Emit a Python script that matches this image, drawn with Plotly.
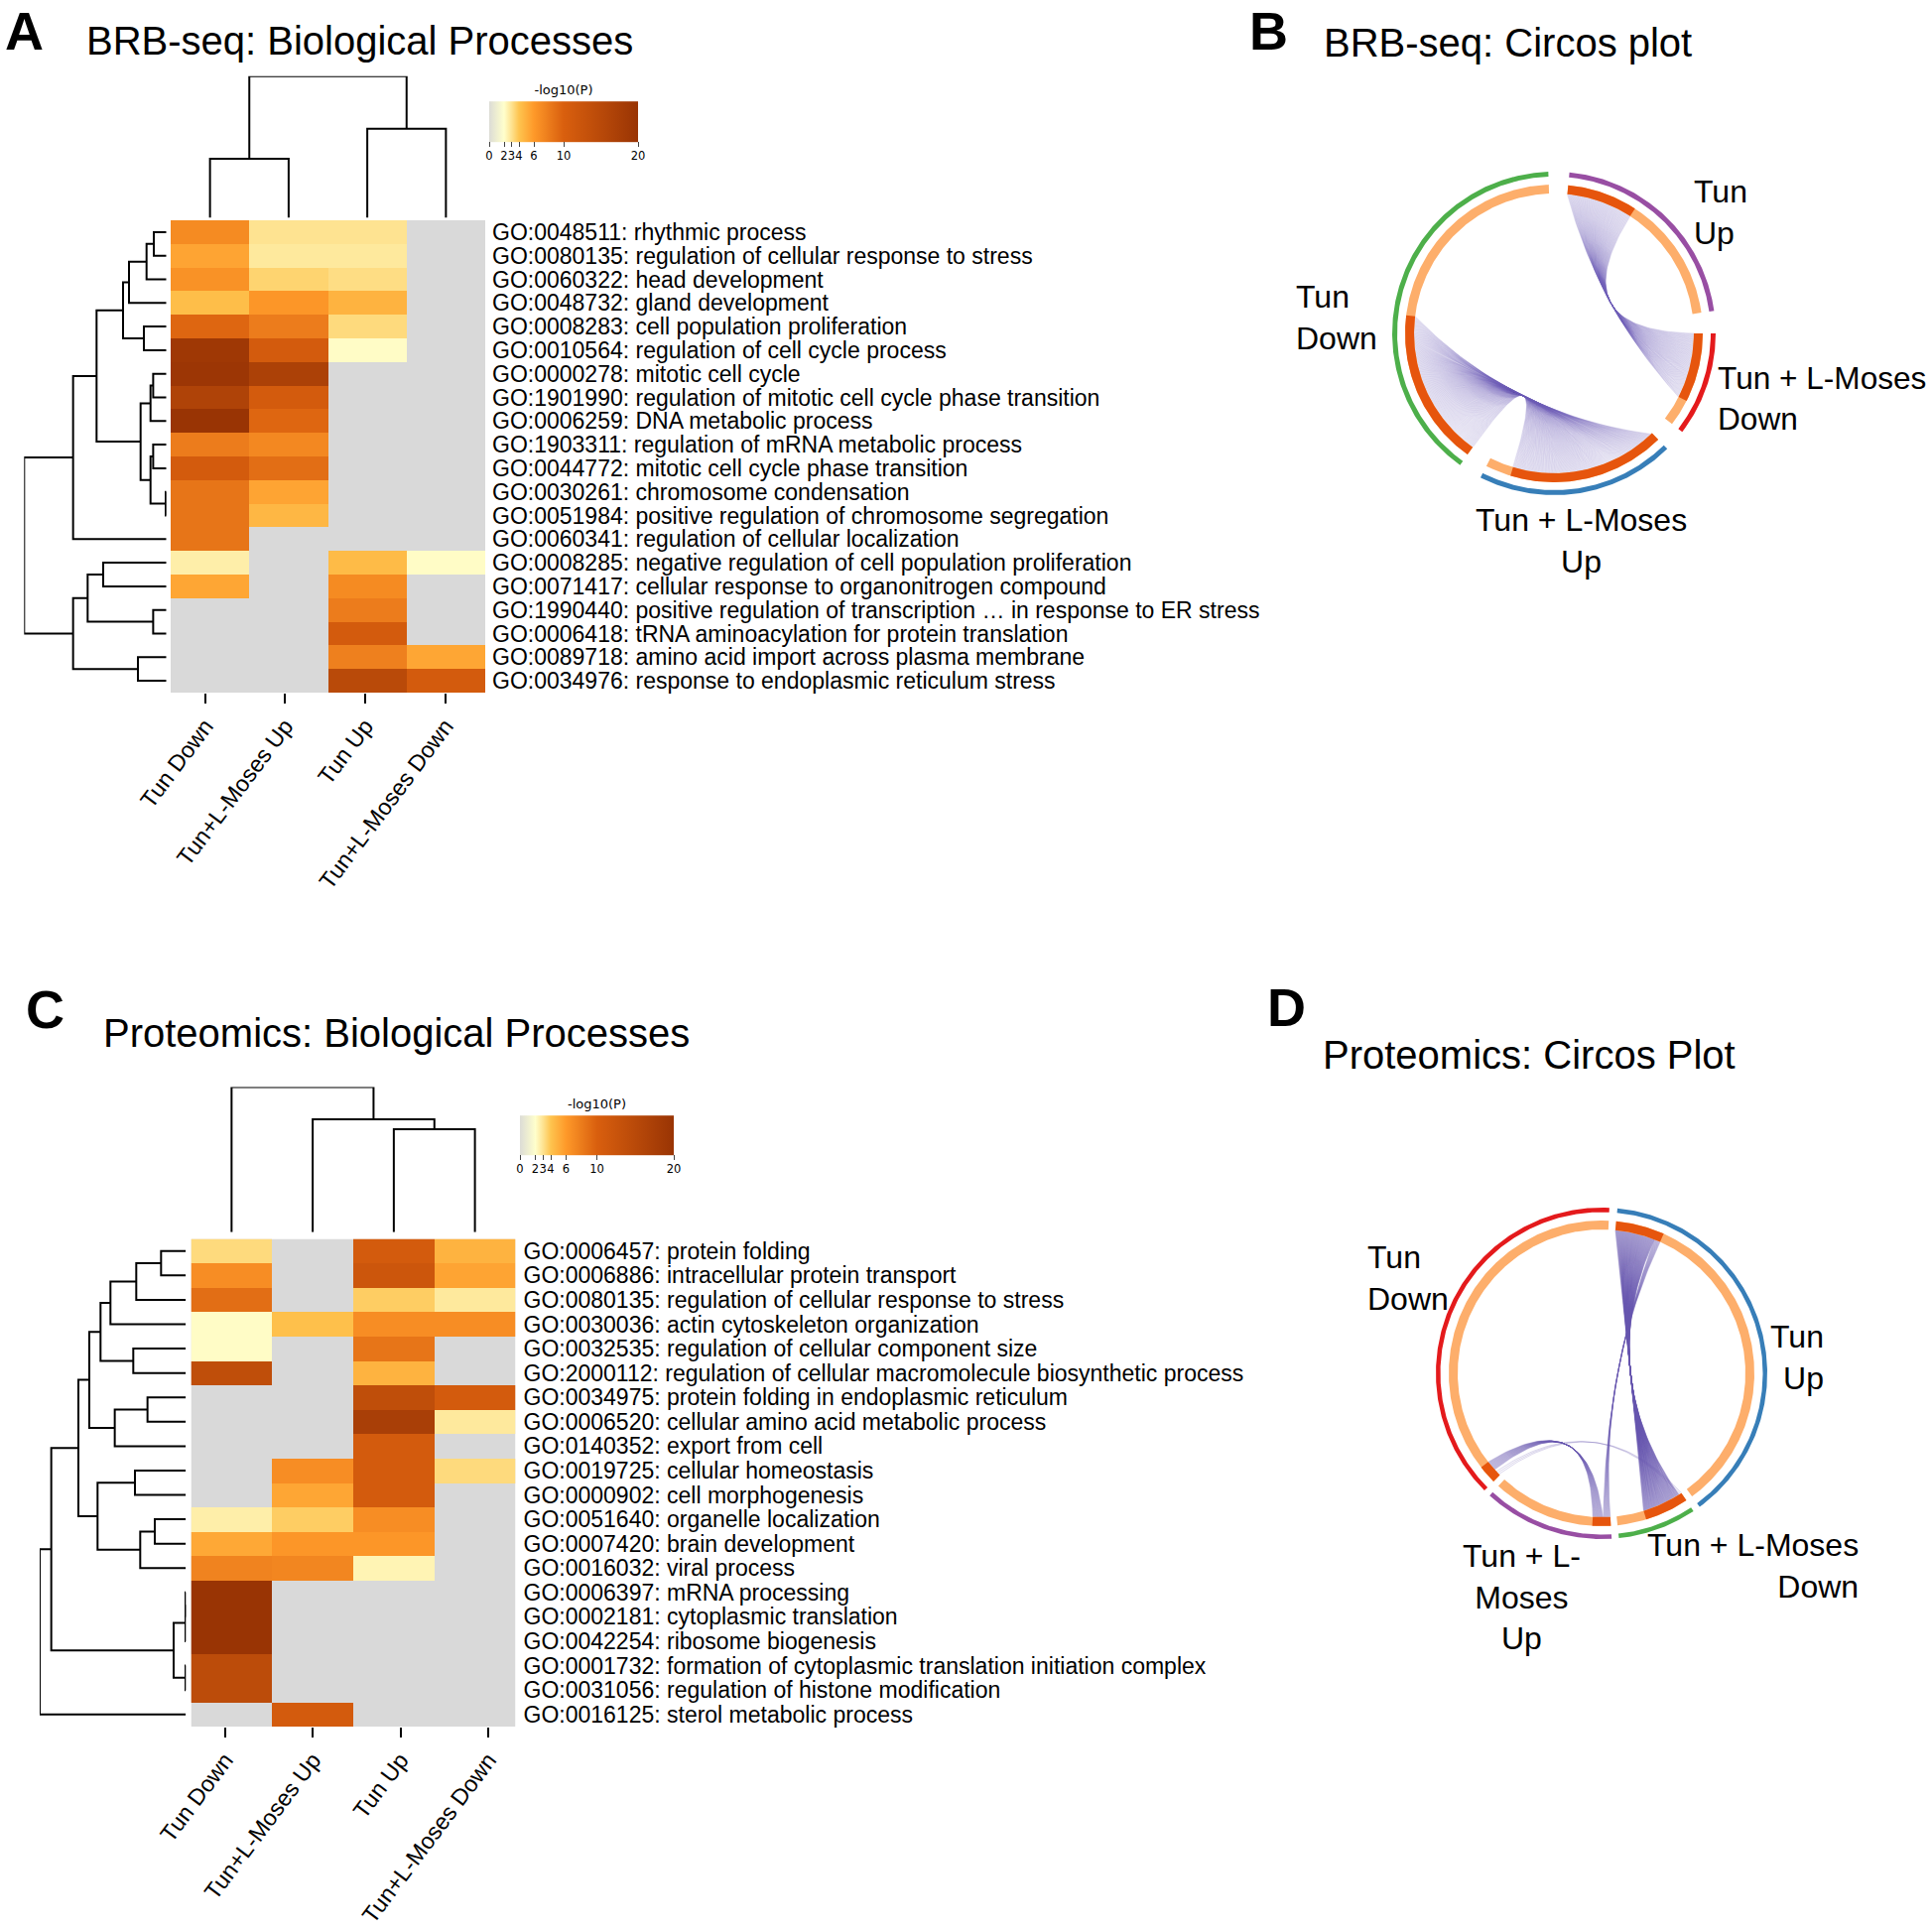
import numpy as np
import plotly.graph_objects as go

W, H = 1947, 1946
FONT = "Liberation Sans"
N = None

# ---------------- data: heatmaps ----------------
conditions = ["Tun Down", "Tun+L-Moses Up", "Tun Up", "Tun+L-Moses Down"]

brb_terms = [
    "GO:0048511: rhythmic process",
    "GO:0080135: regulation of cellular response to stress",
    "GO:0060322: head development",
    "GO:0048732: gland development",
    "GO:0008283: cell population proliferation",
    "GO:0010564: regulation of cell cycle process",
    "GO:0000278: mitotic cell cycle",
    "GO:1901990: regulation of mitotic cell cycle phase transition",
    "GO:0006259: DNA metabolic process",
    "GO:1903311: regulation of mRNA metabolic process",
    "GO:0044772: mitotic cell cycle phase transition",
    "GO:0030261: chromosome condensation",
    "GO:0051984: positive regulation of chromosome segregation",
    "GO:0060341: regulation of cellular localization",
    "GO:0008285: negative regulation of cell population proliferation",
    "GO:0071417: cellular response to organonitrogen compound",
    "GO:1990440: positive regulation of transcription \u2026 in response to ER stress",
    "GO:0006418: tRNA aminoacylation for protein translation",
    "GO:0089718: amino acid import across plasma membrane",
    "GO:0034976: response to endoplasmic reticulum stress",
]
brb_tun_down = [7.0, 5.5, 6.5, 4.3, 9.5, 19.0, 19.5, 16.5, 20.0, 8.0, 11.0, 8.5, 8.5, 8.5, 2.6, 5.4, N, N, N, N]
brb_tlm_up   = [3.0, 2.8, 3.5, 6.2, 8.0, 11.0, 17.0, 11.0, 9.5, 7.2, 9.0, 5.5, 4.6, N, N, N, N, N, N, N]
brb_tun_up   = [3.0, 2.8, 3.2, 4.8, 3.3, 2.1, N, N, N, N, N, N, N, N, 4.4, 7.0, 8.0, 11.0, 7.7, 15.0]
brb_tlm_down = [N, N, N, N, N, N, N, N, N, N, N, N, N, N, 2.1, N, N, N, 5.4, 11.0]

prot_terms = [
    "GO:0006457: protein folding",
    "GO:0006886: intracellular protein transport",
    "GO:0080135: regulation of cellular response to stress",
    "GO:0030036: actin cytoskeleton organization",
    "GO:0032535: regulation of cellular component size",
    "GO:2000112: regulation of cellular macromolecule biosynthetic process",
    "GO:0034975: protein folding in endoplasmic reticulum",
    "GO:0006520: cellular amino acid metabolic process",
    "GO:0140352: export from cell",
    "GO:0019725: cellular homeostasis",
    "GO:0000902: cell morphogenesis",
    "GO:0051640: organelle localization",
    "GO:0007420: brain development",
    "GO:0016032: viral process",
    "GO:0006397: mRNA processing",
    "GO:0002181: cytoplasmic translation",
    "GO:0042254: ribosome biogenesis",
    "GO:0001732: formation of cytoplasmic translation initiation complex",
    "GO:0031056: regulation of histone modification",
    "GO:0016125: sterol metabolic process",
]
prot_tun_down = [3.3, 6.8, 9.0, 2.1, 2.1, 14.0, N, N, N, N, N, 2.6, 5.3, 7.5, 20.0, 20.0, 20.0, 14.5, 14.5, N]
prot_tlm_up   = [N, N, N, 4.2, N, N, N, N, N, 6.8, 5.4, 3.7, 6.2, 7.3, N, N, N, N, N, 11.0]
prot_tun_up   = [11.0, 12.0, 3.7, 6.8, 8.5, 4.8, 14.0, 17.5, 11.0, 11.0, 11.0, 6.8, 6.2, 2.4, N, N, N, N, N, N]
prot_tlm_down = [4.8, 5.5, 2.8, 6.8, N, N, 11.0, 2.8, N, 3.3, N, N, N, N, N, N, N, N, N, N]

cbar_ticks = [0, 2, 3, 4, 6, 10, 20]

# dendrogram linkages: (child_a, child_b, height); leaves are 0..n-1, new nodes n, n+1, ...
brb_col_links = [(0, 1, 59.5), (2, 3, 90.0), (4, 5, 143.0)]
brb_row_links = [(0, 1, 38), (20, 2, 60), (21, 3, 113), (4, 5, 68), (22, 23, 131),
                 (6, 7, 40), (25, 8, 48), (9, 10, 40), (11, 12, 2), (27, 28, 48),
                 (26, 29, 78), (24, 30, 211), (31, 13, 282), (14, 15, 191), (16, 17, 40),
                 (33, 34, 238), (18, 19, 86), (35, 36, 282), (32, 37, 430)]
prot_col_links = [(2, 3, 104.0), (1, 4, 114.0), (0, 5, 146.7)]
prot_row_links = [(0, 1, 75), (20, 2, 150), (21, 3, 228), (4, 5, 159), (22, 23, 258),
                  (6, 7, 116), (25, 8, 215), (24, 26, 292), (9, 10, 154), (11, 12, 94),
                  (29, 13, 138), (28, 30, 267), (27, 31, 325), (14, 15, 1), (33, 16, 1),
                  (17, 18, 1), (34, 35, 37), (32, 36, 407), (37, 19, 442)]

# ---------------- data: circos ----------------
# group arcs, degrees clockwise from 12 o'clock
brb_groups = ["Tun Down", "Tun Up", "Tun + L-Moses Down", "Tun + L-Moses Up"]
brb_group_start = [215.5, 5.5, 90.0, 135.5]
brb_group_end = [358.0, 82.0, 127.5, 207.0]
brb_group_color = ["#4daf4a", "#984ea3", "#e41a1c", "#377eb8"]
brb_shared_start = [215.5, 5.5, 90.0, 135.5]
brb_shared_end = [277.0, 33.0, 117.0, 197.0]
# links: source span -> target span (paired in order), number of genes drawn, waist radius
brb_link_src = [(5.5, 33.0), (215.5, 277.0)]
brb_link_dst = [(117.0, 90.0), (197.0, 136.0)]
brb_link_n = [95, 190]
brb_link_waist = [65, 70]

prot_groups = ["Tun Down", "Tun Up", "Tun + L-Moses Down", "Tun + L-Moses Up"]
prot_group_start = [225.0, 5.5, 146.3, 176.5]
prot_group_end = [362.7, 143.7, 174.0, 222.5]
prot_group_color = ["#e41a1c", "#377eb8", "#4daf4a", "#984ea3"]
prot_shared_start = [225.0, 5.5, 146.3, 176.5]
prot_shared_end = [232.0, 24.0, 163.0, 183.5]
prot_link_src = [(5.5, 21.5), (21.5, 24.0), (228.0, 232.0), (225.5, 227.0)]
prot_link_dst = [(163.0, 147.5), (179.3, 176.5), (183.5, 179.5), (146.3, 147.3)]
prot_link_n = [140, 16, 26, 3]
prot_link_waist = [29, 16, 80, 70]

# ---------------- helpers ----------------
def fx(p):
    return p / W

def fy(p):
    return 1 - p / H

colorscale = [[0.0, "#dcdcd6"], [0.1, "#ffffcc"], [0.15, "#fee391"], [0.2, "#fec44f"],
              [0.3, "#fe9929"], [0.5, "#d95f0e"], [1.0, "#993404"]]

fig = go.Figure()
layout = dict(width=W, height=H, margin=dict(l=0, r=0, t=0, b=0, pad=0, autoexpand=False),
              paper_bgcolor="white", plot_bgcolor="rgba(0,0,0,0)", showlegend=False,
              font=dict(family=FONT, color="black"))
shapes, annotations = [], []


def dendro_segments(links, n):
    pos = {i: float(i) for i in range(n)}
    hgt = {i: 0.0 for i in range(n)}
    a_list, h_list = [], []
    nid = n
    for a, b, h in links:
        a_list += [pos[a], pos[a], pos[b], pos[b], None]
        h_list += [hgt[a], h, h, hgt[b], None]
        pos[nid] = (pos[a] + pos[b]) / 2
        hgt[nid] = h
        nid += 1
    return a_list, h_list


def heat_panel(k, terms, cols, x0, x1, y0, y1, col_links, col_top, row_links, row_left,
               cb_box, label_standoff, tick_dom):
    nr = len(terms)
    ax_h, ax_c, ax_r = 3 * k + 1, 3 * k + 2, 3 * k + 3
    ax_t = 9 + k
    def nm(i):
        return "" if i == 1 else str(i)
    z = [list(r) for r in zip(*cols)]
    z = [[np.nan if v is None else v for v in r] for r in z]
    cbx0, cbx1, cby0, cby1 = cb_box
    # gray "not enriched" background under the heatmap
    shapes.append(dict(type="rect", xref="x" + nm(ax_h), yref="y" + nm(ax_h),
                       x0=-0.5, x1=3.5, y0=-0.5, y1=nr - 0.5, fillcolor="#d9d9d9",
                       line=dict(width=0), layer="below"))
    fig.add_trace(go.Heatmap(
        z=z, x=list(range(4)), y=list(range(nr)), colorscale=colorscale, zmin=0, zmax=20,
        xaxis="x" + nm(ax_h), yaxis="y" + nm(ax_h), hoverinfo="skip",
        colorbar=dict(orientation="h", x=fx((cbx0 + cbx1) / 2), xanchor="center",
                      y=fy(cby1 + 20), yanchor="bottom", len=cbx1 - cbx0, lenmode="pixels",
                      thickness=cby1 - cby0, thicknessmode="pixels", xpad=0, ypad=0,
                      outlinewidth=0, tickvals=cbar_ticks, ticks="outside", ticklen=5,
                      tickwidth=1, tickcolor="#444", tickangle=0,
                      tickfont=dict(size=11.5, family="DejaVu Sans", color="black"),
                      title=dict(text="-log10(P)", side="top",
                                 font=dict(size=13, family="DejaVu Sans", color="black")))))
    layout["xaxis" + nm(ax_h)] = dict(domain=[fx(x0), fx(x1)], range=[-0.5, 3.5],
                                     anchor="y" + nm(ax_h), showticklabels=False, ticks="",
                                     showgrid=False, zeroline=False, showline=False,
                                     automargin=False)
    layout["yaxis" + nm(ax_h)] = dict(domain=[fy(y1), fy(y0)], range=[nr - 0.5, -0.5],
                                     anchor="x" + nm(ax_h), side="right",
                                     tickvals=list(range(nr)), ticktext=terms, ticks="",
                                     ticklabelstandoff=label_standoff,
                                     showgrid=False, zeroline=False, showline=False,
                                     automargin=False,
                                     tickfont=dict(size=23, family=FONT, color="black"))
    # column label axis (ticks are spaced slightly wider than the cells, as in the source)
    fig.add_trace(go.Scatter(x=[0, 3], y=[0, 0], mode="markers", marker=dict(opacity=0),
                             xaxis="x" + str(ax_t), yaxis="y" + nm(ax_h), hoverinfo="skip"))
    layout["xaxis" + str(ax_t)] = dict(domain=[fx(tick_dom[0]), fx(tick_dom[1])],
                                       range=[-0.5, 3.5], anchor="y" + nm(ax_h),
                                       tickvals=list(range(4)), ticktext=conditions,
                                       tickangle=-53, ticks="outside", ticklen=10, tickwidth=2,
                                       tickcolor="black", showgrid=False, zeroline=False,
                                       showline=False, automargin=False,
                                       tickfont=dict(size=23.2, family=FONT, color="black"))
    # column dendrogram
    cx, ch = dendro_segments(col_links, 4)
    fig.add_trace(go.Scatter(x=cx, y=ch, mode="lines", line=dict(color="black", width=2),
                             xaxis="x" + nm(ax_c), yaxis="y" + nm(ax_c), hoverinfo="skip",
                             cliponaxis=False))
    ctop, cbot = col_top
    layout["xaxis" + nm(ax_c)] = dict(domain=[fx(x0), fx(x1)], range=[-0.5, 3.5],
                                     anchor="y" + nm(ax_c), visible=False, automargin=False)
    layout["yaxis" + nm(ax_c)] = dict(domain=[fy(cbot), fy(ctop)],
                                     range=[0, max(l[2] for l in col_links)],
                                     anchor="x" + nm(ax_c), visible=False, automargin=False)
    # row dendrogram
    ry, rh = dendro_segments(row_links, nr)
    fig.add_trace(go.Scatter(x=rh, y=ry, mode="lines", line=dict(color="black", width=2),
                             xaxis="x" + nm(ax_r), yaxis="y" + nm(ax_r), hoverinfo="skip",
                             cliponaxis=False))
    rl, rr = row_left
    layout["xaxis" + nm(ax_r)] = dict(domain=[fx(rl), fx(rr)],
                                     range=[max(l[2] for l in row_links), 0],
                                     anchor="y" + nm(ax_r), visible=False, automargin=False)
    layout["yaxis" + nm(ax_r)] = dict(domain=[fy(y1), fy(y0)], range=[nr - 0.5, -0.5],
                                     anchor="x" + nm(ax_r), visible=False, automargin=False)


heat_panel(0, brb_terms, [brb_tun_down, brb_tlm_up, brb_tun_up, brb_tlm_down],
           172, 489, 222, 698, brb_col_links, (76.7, 219.5), brb_row_links, (24.3, 167.7),
           (493, 643, 104, 145), 6, (166.4, 489.0))
heat_panel(1, prot_terms, [prot_tun_down, prot_tlm_up, prot_tun_up, prot_tlm_down],
           192.5, 519.5, 1248.5, 1740, prot_col_links, (1095.5, 1241.7), prot_row_links,
           (40.0, 187.3), (524, 679, 1126, 1166), 7, (182.6, 536.2))


# ---------------- circos ----------------
def sector(r_in, r_out, a0, a1):
    t = np.radians(np.linspace(a0, a1, max(8, int(abs(a1 - a0) * 2))))
    xs = np.concatenate([r_out * np.sin(t), r_in * np.sin(t[::-1])])
    ys = np.concatenate([r_out * np.cos(t), r_in * np.cos(t[::-1])])
    return list(xs) + [xs[0]], list(ys) + [ys[0]]


def circos_panel(ax, cx, cy, half, r_out, r_ring, r_link, starts, ends, colors,
                 sh_start, sh_end, lsrc, ldst, ln, lwaist, link_color):
    a = str(ax)
    layout["xaxis" + a] = dict(domain=[fx(cx - half), fx(cx + half)], range=[-half, half],
                               anchor="y" + a, visible=False, automargin=False)
    layout["yaxis" + a] = dict(domain=[fy(cy + half), fy(cy - half)], range=[-half, half],
                               anchor="x" + a, visible=False, automargin=False)
    for (s0, s1), (d0, d1), n, wr in zip(lsrc, ldst, ln, lwaist):
        xs, ys = [], []
        t = np.linspace(0, 1, 60)[:, None]
        for i in range(n):
            f = i / (n - 1) if n > 1 else 0.5
            aa = np.radians(s0 + (s1 - s0) * f)
            bb = np.radians(d0 + (d1 - d0) * f)
            P0 = np.array([r_link * np.sin(aa), r_link * np.cos(aa)])
            P2 = np.array([r_link * np.sin(bb), r_link * np.cos(bb)])
            S = P0 + P2
            u = S / (np.linalg.norm(S) + 1e-9)
            C = 2 * (wr * u - 0.25 * S)
            B = (1 - t) ** 2 * P0 + 2 * (1 - t) * t * C + t ** 2 * P2
            xs += list(B[:, 0]) + [None]
            ys += list(B[:, 1]) + [None]
        fig.add_trace(go.Scatter(x=xs, y=ys, mode="lines",
                                 line=dict(color=link_color, width=0.6),
                                 xaxis="x" + a, yaxis="y" + a, hoverinfo="skip"))
    for s, e, c, ss, se in zip(starts, ends, colors, sh_start, sh_end):
        xs, ys = sector(r_out[0], r_out[1], s, e)
        fig.add_trace(go.Scatter(x=xs, y=ys, mode="lines", fill="toself", fillcolor=c,
                                 line=dict(width=0, color=c), xaxis="x" + a, yaxis="y" + a,
                                 hoverinfo="skip"))
        xs, ys = sector(r_ring[0], r_ring[1], s, e)
        fig.add_trace(go.Scatter(x=xs, y=ys, mode="lines", fill="toself", fillcolor="#fdae6b",
                                 line=dict(width=0, color="#fdae6b"), xaxis="x" + a,
                                 yaxis="y" + a, hoverinfo="skip"))
        xs, ys = sector(r_ring[0], r_ring[1], ss, se)
        fig.add_trace(go.Scatter(x=xs, y=ys, mode="lines", fill="toself", fillcolor="#e6550d",
                                 line=dict(width=0, color="#e6550d"), xaxis="x" + a,
                                 yaxis="y" + a, hoverinfo="skip"))


circos_panel(7, 1566, 336, 215, (158, 163), (141, 150), 141,
             brb_group_start, brb_group_end, brb_group_color, brb_shared_start, brb_shared_end,
             brb_link_src, brb_link_dst, brb_link_n, brb_link_waist, "rgba(110,92,182,0.30)")
circos_panel(8, 1614, 1384, 215, (162.5, 167), (145, 154), 145,
             prot_group_start, prot_group_end, prot_group_color, prot_shared_start,
             prot_shared_end, prot_link_src, prot_link_dst, prot_link_n, prot_link_waist,
             "rgba(104,84,176,0.40)")


# ---------------- text ----------------
def text(s, x, y, size, xanchor="left", align="left", bold=False, yanchor="middle"):
    annotations.append(dict(text=("<b>%s</b>" % s) if bold else s, x=fx(x), y=fy(y),
                            xref="paper", yref="paper", xanchor=xanchor, yanchor=yanchor,
                            align=align, showarrow=False, borderpad=0,
                            font=dict(family=FONT, size=size, color="black")))

text("A", 24, 0, 54, xanchor="center", bold=True, yanchor="top")
text("B", 1278, 0, 54, xanchor="center", bold=True, yanchor="top")
text("C", 45, 1017, 54, xanchor="center", bold=True)
text("D", 1296, 1015, 54, xanchor="center", bold=True)
text("BRB-seq: Biological Processes", 86, 41, 40)
text("BRB-seq: Circos plot", 1333, 43, 40)
text("Proteomics: Biological Processes", 103, 1041, 40)
text("Proteomics: Circos Plot", 1332, 1063, 40)

text("Tun<br>Up", 1706, 214, 32)
text("Tun<br>Down", 1305, 320, 32)
text("Tun + L-Moses<br>Down", 1730, 401, 31.6)
text("Tun + L-Moses<br>Up", 1593, 545, 32, xanchor="center", align="center")
text("Tun<br>Down", 1377, 1288, 32)
text("Tun<br>Up", 1839, 1368, 32, xanchor="right", align="right")
text("Tun + L-<br>Moses<br>Up", 1533, 1609, 32, xanchor="center", align="center")
text("Tun + L-Moses<br>Down", 1874, 1578, 32, xanchor="right", align="right")

layout["shapes"] = shapes
layout["annotations"] = annotations
fig.update_layout(**layout)
fig.write_html("out.html", config={"displayModeBar": False},
               post_script="document.body.style.margin='0px';document.body.style.padding='0px';")
